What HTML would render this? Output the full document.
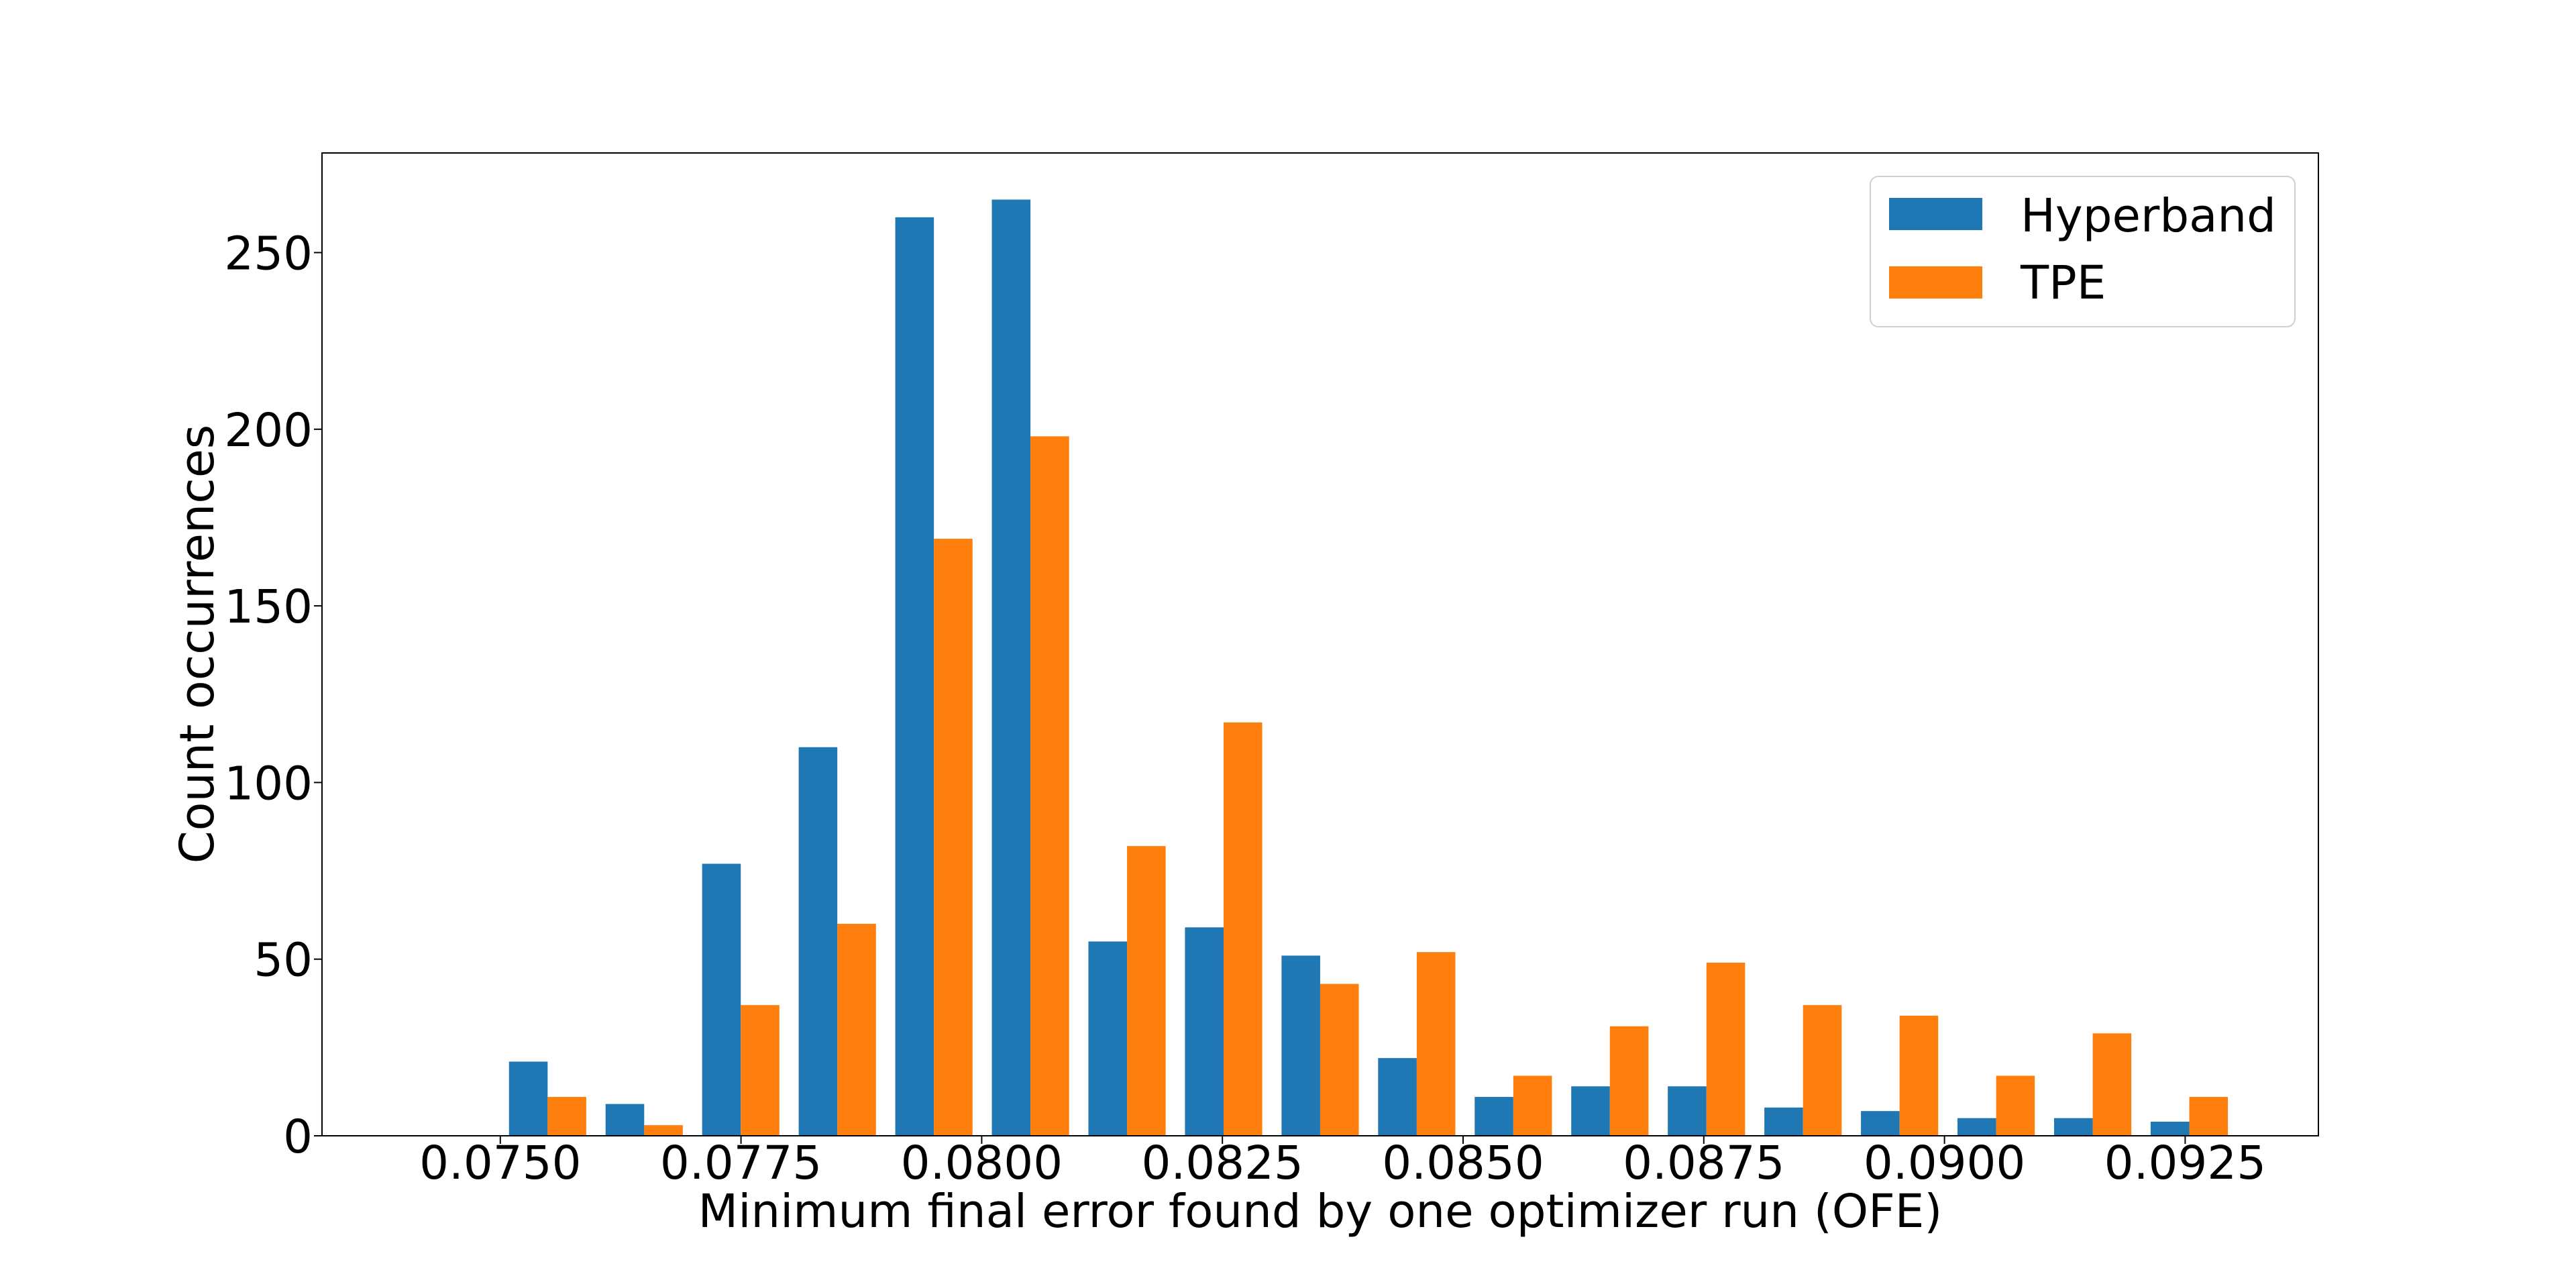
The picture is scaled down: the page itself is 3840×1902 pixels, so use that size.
<!DOCTYPE html>
<html><head><meta charset="utf-8"><style>
html,body{margin:0;padding:0;background:#fff;}
svg{display:block;font-family:"DejaVu Sans","Liberation Sans",sans-serif;}
</style></head><body>
<svg id="chart" width="3840" height="1902" viewBox="0 0 3840 1902" xmlns="http://www.w3.org/2000/svg">
<rect width="3840" height="1902" fill="#fff"/>
<g id="bars"></g>
<g id="axes"></g>
<text x="1968" y="1829" font-size="69" text-anchor="middle">Minimum final error found by one optimizer run (OFE)</text>
<text transform="translate(318,960) rotate(-90)" font-size="70" text-anchor="middle">Count occurrences</text>
<g>
<rect x="2788" y="263" width="633" height="224" rx="12" fill="#fff" fill-opacity="0.8" stroke="#d0d0d0" stroke-width="2"/>
<rect x="2816" y="295" width="139" height="48" fill="#1f77b4"/>
<text x="3012" y="345" font-size="69">Hyperband</text>
<rect x="2816" y="397" width="139" height="48" fill="#ff7f0e"/>
<text x="3012" y="445" font-size="69">TPE</text>
</g>
</svg>
<script>
const binStart = 0.07499;
const binWidth = 0.001003;
const hyperband = [21, 9, 77, 110, 260, 265, 55, 59, 51, 22, 11, 14, 14, 8, 7, 5, 5, 4];
const tpe = [11, 3, 37, 60, 169, 198, 82, 117, 43, 52, 17, 31, 49, 37, 34, 17, 29, 11];
const xTicks = [0.075, 0.0775, 0.08, 0.0825, 0.085, 0.0875, 0.09, 0.0925];
const xTickLabels = ["0.0750", "0.0775", "0.0800", "0.0825", "0.0850", "0.0875", "0.0900", "0.0925"];
const yTicks = [0, 50, 100, 150, 200, 250];

const L = 480, R = 3456, T = 228, B = 1693;
const yMax = 278.2;
function xs(v){ return 745.8 + (v - 0.075) * 358.8 / 0.0025; }
function ys(v){ return B - v * (B - T) / yMax; }
const NS = "http://www.w3.org/2000/svg";
function mk(tag, attrs, parent){
  const e = document.createElementNS(NS, tag);
  for (const k in attrs) e.setAttribute(k, attrs[k]);
  parent.appendChild(e);
  return e;
}
const bars = document.getElementById('bars');
const axes = document.getElementById('axes');
for (let i = 0; i < hyperband.length; i++) {
  const x0 = xs(binStart + i * binWidth);
  const x1 = xs(binStart + (i + 1) * binWidth);
  const w = x1 - x0;
  const bw = w * 0.4;
  const bx = x0 + w * 0.1;
  const b = mk('rect', {x: bx, y: ys(hyperband[i]), width: bw, height: B - ys(hyperband[i]), fill: '#1f77b4'}, bars);
  
  
  const o = mk('rect', {x: bx + bw, y: ys(tpe[i]), width: bw, height: B - ys(tpe[i]), fill: '#ff7f0e'}, bars);
  
  
}
const frame = mk('rect', {x: L, y: T, width: R - L, height: B - T, fill: 'none', stroke: '#000', 'stroke-width': 2}, axes);


xTicks.forEach((v, i) => {
  const x = xs(v);
  const t = mk('line', {x1: x, x2: x, y1: B, y2: B + 12, stroke: '#000', 'stroke-width': 2}, axes);
  
  
  const lb = mk('text', {x: x, y: 1757, 'font-size': 69, 'text-anchor': 'middle'}, axes);
  lb.textContent = xTickLabels[i];
  
  
});
yTicks.forEach(v => {
  const y = ys(v);
  const t = mk('line', {x1: L - 12, x2: L, y1: y, y2: y, stroke: '#000', 'stroke-width': 2}, axes);
  
  
  const lb = mk('text', {x: L - 14, y: y + 25, 'font-size': 69, 'text-anchor': 'end'}, axes);
  lb.textContent = String(v);
  
  
});
</script>
</body></html>
